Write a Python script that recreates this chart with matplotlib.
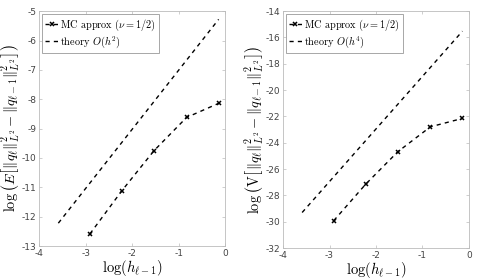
import matplotlib
matplotlib.use('Agg')
import matplotlib.pyplot as plt

plt.rcParams['mathtext.fontset'] = 'cm'
plt.rcParams['axes.unicode_minus'] = False

# ----------------------- data -----------------------
log_h = [-2.91, -2.22, -1.53, -0.83, -0.14]
mean_mc = [-12.585, -11.11, -9.75, -8.62, -8.14]
var_mc = [-29.92, -27.14, -24.68, -22.79, -22.15]

theory_x = [-3.59, -0.14]
mean_theory = [-12.22, -5.28]
var_theory = [-29.3, -15.52]

mean_yticks = [-13, -12, -11, -10, -9, -8, -7, -6, -5]
var_yticks = [-32, -30, -28, -26, -24, -22, -20, -18, -16, -14]
xticks = [-4, -3, -2, -1, 0]

fig = plt.figure(figsize=(4.79, 2.79), dpi=100)
ax1 = fig.add_axes([0.082, 0.118, 0.388, 0.842])
ax2 = fig.add_axes([0.591, 0.111, 0.388, 0.849])

spec = [
    (ax1, mean_mc, mean_theory, mean_yticks, r'theory $O(h^2)$',
     r'$\log\left(E\left[\|q_\ell\|^2_{L^2}-\|q_{\ell-1}\|^2_{L^2}\right]\right)$'),
    (ax2, var_mc, var_theory, var_yticks, r'theory $O(h^4)$',
     r'$\log\left(\mathrm{V}\left[\|q_\ell\|^2_{L^2}-\|q_{\ell-1}\|^2_{L^2}\right]\right)$'),
]

for ax, mc, th, yt, th_label, ylab in spec:
    ax.plot(log_h, mc, linestyle=(0, (3, 3)), color='k', lw=1.0, marker='x',
            markersize=3.5, markeredgewidth=1.1, label=r'MC approx ($\nu=1/2$)')
    ax.plot(theory_x, th, linestyle=(0, (3, 3)), color='k', lw=1.0, label=th_label)
    ax.set_xlim(-4, 0)
    ax.set_ylim(yt[0], yt[-1])
    ax.set_xticks(xticks)
    ax.set_yticks(yt)
    ax.tick_params(direction='in', length=2.5, width=0.5, color='#bbbbbb',
                   labelsize=6.5, labelcolor='#444444', top=True, right=True, pad=2)
    for s in ax.spines.values():
        s.set_color('#bbbbbb')
        s.set_linewidth(0.6)
    ax.set_xlabel(r'$\log(h_{\ell-1})$', fontsize=10.5, labelpad=0)
    ax.set_ylabel(ylab, fontsize=10.3)
    ax.yaxis.set_label_coords(-0.092, 0.5)
    leg = ax.legend(loc='upper left', fontsize=7.4, handlelength=1.2, handletextpad=0.2,
                    borderpad=0.3, labelspacing=0.15, borderaxespad=0.3,
                    fancybox=False, framealpha=1)
    leg.get_frame().set_edgecolor('#999999')
    leg.get_frame().set_linewidth(0.6)
    for t in leg.get_texts():
        t.set_fontfamily('cmr10')

fig.savefig('out.png', dpi=100)
